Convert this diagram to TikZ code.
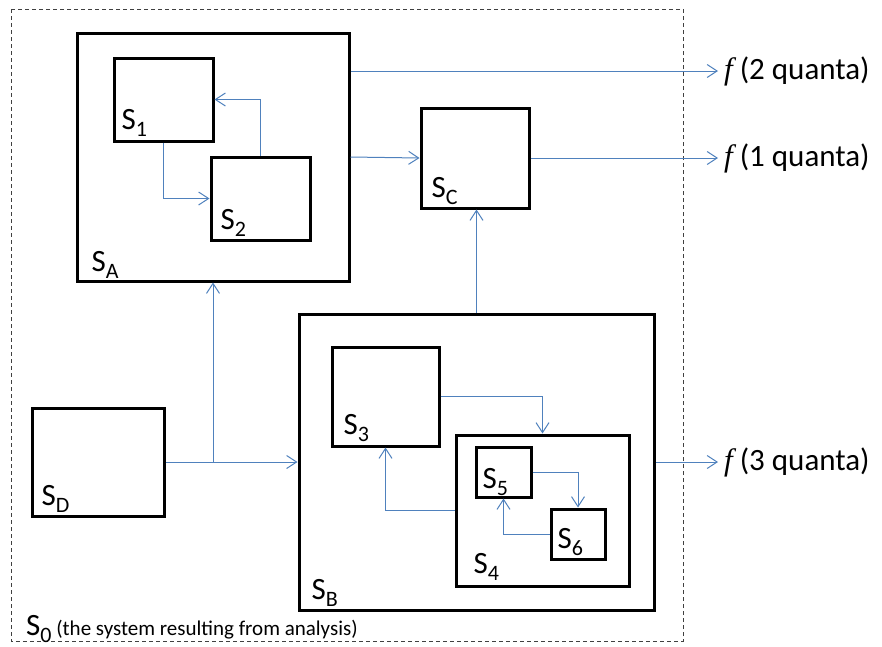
\documentclass[tikz,border=0pt]{standalone}
\usepackage{fontspec}
\setmainfont{Carlito}
\newfontfamily\ffont{Liberation Serif}
\usetikzlibrary{arrows.meta}
\tikzset{>={Straight Barb[length=10pt,width=13pt]}}
\usepackage{xcolor}
\definecolor{myblue}{RGB}{79,129,189}
\colorlet{mygray}{black!75}
\tikzstyle{box}=[draw,line width=3pt,rectangle,inner sep=0]
\tikzstyle{tag}=[anchor=base west,inner sep=0,font=\fontsize{31}{36}\selectfont]
\tikzstyle{quanta}=[anchor=west,inner xsep=6pt,inner ysep=0,font=\fontsize{31}{36}\selectfont]
\tikzstyle{connect}=[->,myblue,line width=1pt]
\tikzstyle{frame}=[draw=mygray,line width=1pt,dash pattern=on 4pt off 3pt]
\newcommand{\idx}[1]{\raisebox{-7pt}{\fontsize{22}{22}\selectfont #1}}

\begin{document}
\begin{tikzpicture}[x=1pt,y=-1pt]
    \useasboundingbox (0,0) rectangle (882,646);

    % outline of S0
    \draw[frame] (11,9) rectangle (683,641);

    % DRAW BOXES: name/x/y/width/height
    \foreach \n/\x/\y/\w/\h in {SA/213/157/272/248, S1/163.5/99.5/99/83,
            S2/260.5/198.5/99/83, SC/475/158/108/100, SB/476.5/462/355/296,
            S3/385.5/396.5/107/99, S4/542.5/510.5/173/151, S5/503.5/472/55/50,
            S6/578/534/54/50, SD/98/462/132/108}{
        \node[box,minimum width=\w pt,minimum height=\h pt] (\n) at (\x,\y) {};
    }

    % LABELS in the lower left corners
    \foreach \n/\s/\dx/\dy in {SA/A/16/11, S1/1/9/13, S2/2/11/12, SC/C/12/12,
            SB/B/14/12, S3/3/13/13, S4/4/19/14, S5/5/8/10, S6/6/8/12, SD/D/11/12}{
        \node[tag] (T-\n) at ([shift={(\dx,-\dy)}]\n.south west) {S\idx{\s}};
    }
    \node[tag] (T-S0) at (26,635) {S\idx{0}{\fontsize{21}{24}\selectfont\ (the system resulting from analysis)}};

    % OUTPUTS
    \node[quanta] (F2) at (718,71) {{\ffont\itshape f} (2 quanta)};
    \node[quanta] (F1) at (718,158) {{\ffont\itshape f} (1 quanta)};
    \node[quanta] (F3) at (718,462) {{\ffont\itshape f} (3 quanta)};

    % DRAW EDGES
    \draw[connect] (S1.south) |- (S2.west);
    \draw[connect] (S2.north) |- (S1.east);
    \draw[connect] (SA.east |- F2.west) -- (F2.west);
    \draw[connect] (SA.east) -- (SC.west);
    \draw[connect] (SC.east) -- (F1.west);
    \draw[connect] (SB.north) -- (SB.north |- SC.south);
    \draw[connect] (SB.east) -- (F3.west);
    \draw[connect] (SD.east) -- (SB.west);
    \coordinate (split) at (SA.south |- SD.east);
    \draw[connect] (split) -- (SA.south);
    \draw[connect] (S3.east) -| (S4.north);
    \draw[connect] (S4.west) -| (S3.south);
    \draw[connect] (S5.east) -| (S6.north);
    \draw[connect] (S6.west) -| (S5.south);
\end{tikzpicture}
\end{document}
